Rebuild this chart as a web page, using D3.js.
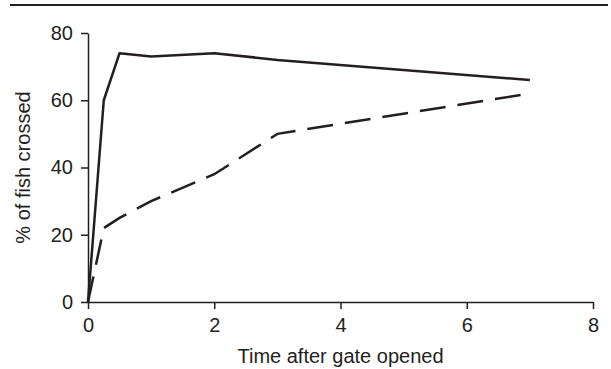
<!DOCTYPE html>
<html><head><meta charset="utf-8">
<script src="https://cdn.jsdelivr.net/npm/d3@7/dist/d3.min.js"></script>
<style>body{margin:0;background:#fff}svg{display:block}</style>
</head><body>
<script>
const timeSolid = [0, 0.25, 0.5, 1, 2, 3, 7];
const crossedSolid = [0, 60, 74, 73, 74, 72, 66];
const timeDashed = [0, 0.25, 0.5, 1, 2, 3, 7];
const crossedDashed = [0, 22, 25, 30, 38, 50, 62];
const xTicks = [0, 2, 4, 6, 8];
const yTicks = [0, 20, 40, 60, 80];
const xTitle = "Time after gate opened";
const yTitle = "% of fish crossed";

const W = 611, H = 369;
const ink = "#231f20";
const svg = d3.select("body").append("svg").attr("width", W).attr("height", H);
const x = d3.scaleLinear().domain([0, 8]).range([88, 593]);
const y = d3.scaleLinear().domain([0, 80]).range([302, 33]);

svg.append("line").attr("x1", 10).attr("x2", 608).attr("y1", 5).attr("y2", 5)
  .attr("stroke", ink).attr("stroke-width", 2);

const font = "'Liberation Sans', Arial, Helvetica, sans-serif";
const xa = svg.append("g").attr("transform", `translate(0,${y(0)})`)
  .call(d3.axisBottom(x).tickValues(xTicks).tickSize(7).tickSizeOuter(0).tickPadding(9));
const ya = svg.append("g").attr("transform", `translate(${x(0)},0)`)
  .call(d3.axisLeft(y).tickValues(yTicks).tickSize(7).tickSizeOuter(0).tickPadding(8));
[xa, ya].forEach(a => {
  a.select(".domain").attr("stroke", ink).attr("stroke-width", 1.5);
  a.selectAll(".tick line").attr("stroke", ink).attr("stroke-width", 1.5);
  a.selectAll(".tick text").attr("fill", ink).style("font-family", font).style("font-size", "20px");
});

const line = d3.line().x(d => x(d[0])).y(d => y(d[1]));
svg.append("path").datum(timeSolid.map((t, i) => [t, crossedSolid[i]]))
  .attr("d", line).attr("fill", "none").attr("stroke", ink).attr("stroke-width", 2.5)
  .attr("stroke-linejoin", "round");
svg.append("path").datum(timeDashed.map((t, i) => [t, crossedDashed[i]]))
  .attr("d", line).attr("fill", "none").attr("stroke", ink).attr("stroke-width", 2.5)
  .attr("stroke-dasharray", "26,12");

svg.append("text").attr("x", x(4)).attr("y", 363).attr("text-anchor", "middle")
  .attr("fill", ink).style("font-family", font).style("font-size", "20px").text(xTitle);
svg.append("text").attr("transform", `translate(30,${y(40)}) rotate(-90)`).attr("text-anchor", "middle")
  .attr("fill", ink).style("font-family", font).style("font-size", "20px").text(yTitle);
</script>
</body></html>
